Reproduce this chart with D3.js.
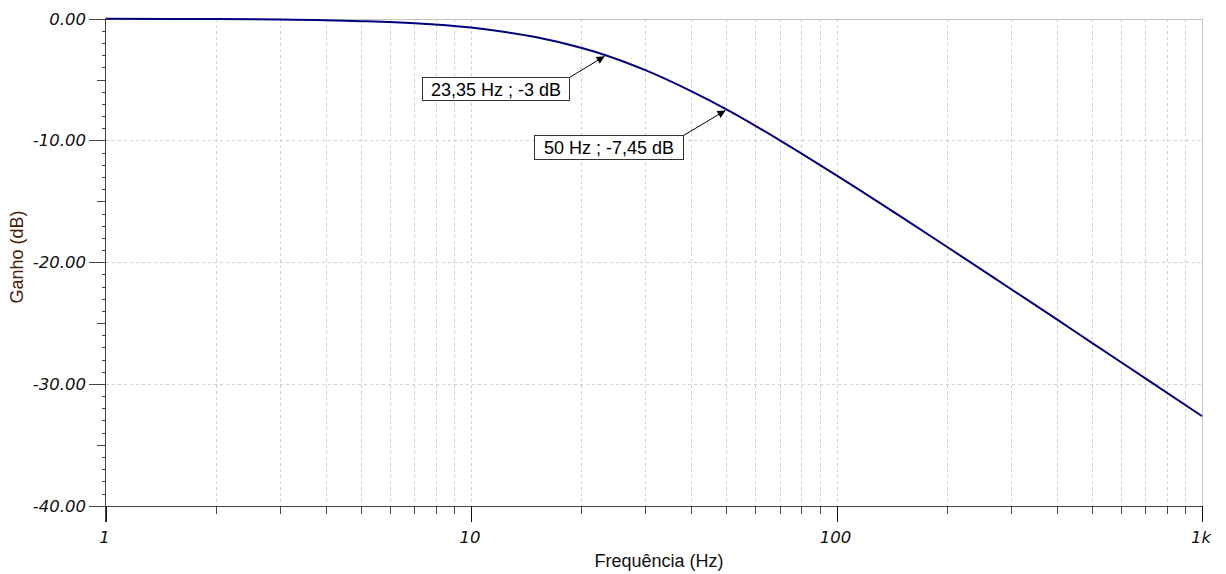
<!DOCTYPE html>
<html>
<head>
<meta charset="utf-8">
<script src="https://cdn.jsdelivr.net/npm/d3@7"></script>
<style>
  body { margin: 0; background: #fff; }
  svg { display: block; font-family: "Liberation Sans", Arial, sans-serif; }
</style>
</head>
<body>
<div id="container"></div>
<script>
// frequency response (Hz, dB)
const freqs = [1, 1.5, 2, 3, 5, 7, 10, 12, 15, 20, 23.35, 30, 40, 50, 60, 70, 100, 150, 200, 300, 400, 500, 700, 1000];
const gains = [-0.01, -0.02, -0.03, -0.07, -0.2, -0.37, -0.73, -1.03, -1.5, -2.39, -3.0, -4.23, -5.95, -7.45, -8.8, -9.99, -12.87, -16.26, -18.71, -22.2, -24.68, -26.63, -29.54, -32.64];

// cursor annotations
const markFreqs = [23.35, 50];
const markGains = [-3, -7.45];
const markTexts = ["23,35 Hz ; -3 dB", "50 Hz ; -7,45 dB"];

const yTicks = [0, -10, -20, -30, -40];
const xTickLabels = ["1", "10", "100", "1k"];

const width = 1226, height = 574;
const pLeft = 105.5, pRight = 1202, pTop = 18.7, pBottom = 505.7;

const x = d3.scaleLog().domain([1, 1000]).range([pLeft, pRight]);
const y = d3.scaleLinear().domain([-40, 0]).range([pBottom, pTop]);

const svg = d3.select("#container").append("svg")
    .attr("width", width)
    .attr("height", height);

// minor log positions
let minors = [];
[1, 10, 100].forEach(d => { for (let k = 2; k <= 9; k++) minors.push(d * k); });
const decades = [1, 10, 100, 1000];

const grid = svg.append("g").attr("stroke", "#cfcfcf").attr("stroke-width", 1)
    .attr("stroke-dasharray", "3,3").attr("shape-rendering", "crispEdges");

grid.selectAll(".vg").data(minors.concat([10, 100])).enter().append("line")
    .attr("x1", d => Math.round(x(d)) + 0.5).attr("x2", d => Math.round(x(d)) + 0.5)
    .attr("y1", pTop).attr("y2", pBottom);

grid.selectAll(".hg").data([-10, -20, -30]).enter().append("line")
    .attr("x1", pLeft).attr("x2", pRight)
    .attr("y1", d => Math.round(y(d)) + 0.5).attr("y2", d => Math.round(y(d)) + 0.5);

// top and right frame
svg.append("path")
    .attr("d", `M${pLeft},${Math.round(pTop) + 0.5}H${Math.round(pRight) + 0.5}V${pBottom}`)
    .attr("fill", "none").attr("stroke", "#c4c4c4").attr("shape-rendering", "crispEdges");

// y axis
const yAxis = svg.append("g").attr("stroke", "#444").attr("shape-rendering", "crispEdges");
yAxis.append("line").attr("x1", pLeft).attr("x2", pLeft).attr("y1", pTop).attr("y2", pBottom + 16);
yAxis.selectAll(".yt").data(d3.range(0, -41, -1)).enter().append("line")
    .attr("x1", d => d % 10 === 0 ? pLeft - 17 : d % 5 === 0 ? pLeft - 9 : pLeft - 4)
    .attr("x2", pLeft)
    .attr("y1", d => Math.round(y(d)) + 0.5).attr("y2", d => Math.round(y(d)) + 0.5);

svg.selectAll(".yl").data(yTicks).enter().append("text")
    .attr("x", 86).attr("y", d => y(d) + 6)
    .attr("text-anchor", "end")
    .attr("font-family", "'DejaVu Sans', Verdana, sans-serif")
    .attr("font-size", 16.5).attr("font-style", "italic")
    .attr("fill", "#111")
    .text(d => d.toFixed(2));

// x axis
const xAxis = svg.append("g").attr("stroke", "#444").attr("shape-rendering", "crispEdges");
xAxis.append("line").attr("x1", pLeft - 17).attr("x2", pRight).attr("y1", Math.round(pBottom) + 0.5).attr("y2", Math.round(pBottom) + 0.5);
xAxis.selectAll(".xm").data(minors).enter().append("line")
    .attr("x1", d => Math.round(x(d)) + 0.5).attr("x2", d => Math.round(x(d)) + 0.5)
    .attr("y1", pBottom).attr("y2", pBottom + 8);
xAxis.selectAll(".xd").data(decades).enter().append("line")
    .attr("stroke", "#111")
    .attr("x1", d => Math.round(x(d)) + 0.5).attr("x2", d => Math.round(x(d)) + 0.5)
    .attr("y1", pBottom).attr("y2", pBottom + 16);

svg.selectAll(".xl").data(decades).enter().append("text")
    .attr("x", d => x(d) - 1)
    .attr("y", 543)
    .attr("text-anchor", "middle")
    .attr("font-family", "'DejaVu Sans', Verdana, sans-serif")
    .attr("font-size", 16.5).attr("font-style", "italic")
    .attr("fill", "#111")
    .text((d, i) => xTickLabels[i]);

// axis titles
svg.append("text")
    .attr("transform", "translate(23,257) rotate(-90)")
    .attr("text-anchor", "middle")
    .attr("font-size", 18)
    .attr("fill", "#4a1a08")
    .text("Ganho (dB)");

svg.append("text")
    .attr("x", 659).attr("y", 567)
    .attr("text-anchor", "middle")
    .attr("font-size", 18)
    .attr("fill", "#111")
    .text("Frequência (Hz)");

// curve
const pts = freqs.map((f, i) => [f, gains[i]]);
svg.append("path")
    .datum(pts)
    .attr("fill", "none")
    .attr("stroke", "#000080")
    .attr("stroke-width", 2)
    .attr("d", d3.line().x(d => x(d[0])).y(d => y(d[1])).curve(d3.curveMonotoneX));

// annotations
svg.append("defs").append("marker")
    .attr("id", "arr").attr("viewBox", "0 0 10 10")
    .attr("refX", 10).attr("refY", 5)
    .attr("markerWidth", 14).attr("markerHeight", 8)
    .attr("markerUnits", "userSpaceOnUse")
    .attr("orient", "auto")
  .append("path").attr("d", "M0,0L10,5L0,10Z").attr("fill", "#000");

const boxOffsets = [[-184, 22, 147, 23], [-192, 26, 149, 24]];

markFreqs.forEach((f, i) => {
  const px = x(f), py = y(markGains[i]);
  const [dx, dy, bw, bh] = boxOffsets[i];
  const bx = Math.round(px + dx) + 0.5, by = Math.round(py + dy) + 0.5;
  svg.append("line")
      .attr("x1", bx + bw).attr("y1", by)
      .attr("x2", px - 1).attr("y2", py + 1)
      .attr("stroke", "#000").attr("stroke-width", 1)
      .attr("marker-end", "url(#arr)");
  svg.append("rect")
      .attr("x", bx).attr("y", by).attr("width", bw).attr("height", bh)
      .attr("fill", "#fff").attr("stroke", "#333");
  svg.append("text")
      .attr("x", bx + bw / 2).attr("y", by + bh / 2 + 6.5)
      .attr("text-anchor", "middle")
      .attr("font-size", 18)
      .attr("fill", "#000")
      .text(markTexts[i]);
});
</script>
</body>
</html>
